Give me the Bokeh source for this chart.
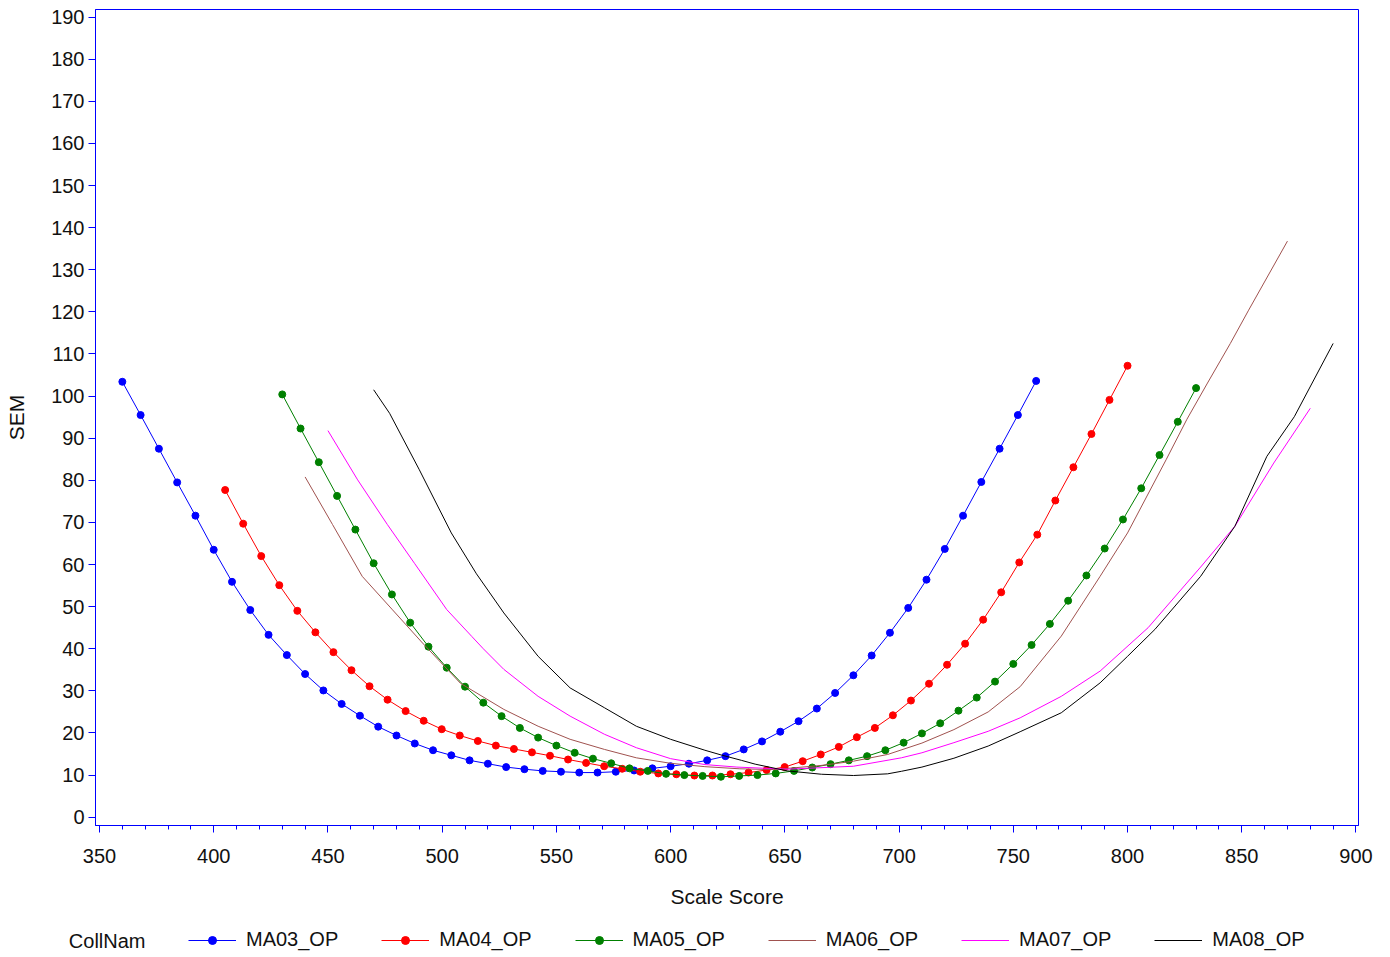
from bokeh.plotting import figure
from bokeh.layouts import column
from bokeh.models import (Range1d, SingleIntervalTicker, FixedTicker, LinearAxis, Legend,
                          LegendItem, ColumnDataSource)
from bokeh.embed import file_html
from bokeh.resources import INLINE

NAN = float("nan")

# ---------------- data ----------------
ma03_score = [360, 368, 376, 384, 392, 400, 408, 416, 424, 432, 440, 448, 456, 464, 472, 480, 488,
              496, 504, 512, 520, 528, 536, 544, 552, 560, 568, 576, 584, 592, 600, 608, 616, 624,
              632, 640, 648, 656, 664, 672, 680, 688, 696, 704, 712, 720, 728, 736, 744, 752, 760]
ma03_sem = [103.4, 95.5, 87.5, 79.5, 71.6, 63.5, 55.9, 49.2, 43.3, 38.5, 34.0, 30.1, 26.9, 24.1,
            21.5, 19.4, 17.5, 15.9, 14.7, 13.5, 12.7, 11.9, 11.4, 11.0, 10.8, 10.6, 10.6, 10.8,
            11.1, 11.6, 12.1, 12.7, 13.5, 14.5, 16.1, 18.0, 20.3, 22.8, 25.8, 29.5, 33.7, 38.4,
            43.8, 49.7, 56.4, 63.7, 71.6, 79.6, 87.5, 95.5, 103.6]

ma04_score = [405.0, 412.9, 420.8, 428.7, 436.6, 444.5, 452.4, 460.3, 468.2, 476.1, 484.0, 491.9,
              499.8, 507.7, 515.6, 523.5, 531.4, 539.3, 547.2, 555.1, 563.0, 570.9, 578.8, 586.7,
              594.6, 602.5, 610.4, 618.3, 626.2, 634.1, 642.0, 649.9, 657.8, 665.7, 673.6, 681.5,
              689.4, 697.3, 705.2, 713.1, 721.0, 728.9, 736.8, 744.7, 752.6, 760.5, 768.4, 776.3,
              784.2, 792.1, 800.0]
ma04_sem = [77.7, 69.7, 62.0, 55.1, 49.0, 43.9, 39.2, 34.9, 31.1, 27.9, 25.2, 22.9, 20.9, 19.4,
            18.1, 17.0, 16.2, 15.4, 14.6, 13.7, 12.9, 12.1, 11.5, 10.8, 10.4, 10.2, 9.9, 9.9,
            10.2, 10.6, 11.2, 11.9, 13.3, 14.9, 16.7, 19.0, 21.2, 24.2, 27.7, 31.7, 36.2, 41.2,
            46.9, 53.4, 60.5, 67.1, 75.2, 83.1, 91.0, 99.1, 107.2]

ma05_score = [430, 438, 446, 454, 462, 470, 478, 486, 494, 502, 510, 518, 526, 534, 542, 550, 558,
              566, 574, 582, 590, 598, 606, 614, 622, 630, 638, 646, 654, 662, 670, 678, 686, 694,
              702, 710, 718, 726, 734, 742, 750, 758, 766, 774, 782, 790, 798, 806, 814, 822, 830]
ma05_sem = [100.4, 92.3, 84.3, 76.3, 68.3, 60.3, 52.9, 46.2, 40.5, 35.5, 31.0, 27.2, 24.0, 21.2,
            18.9, 17.0, 15.3, 13.9, 12.8, 11.6, 11.0, 10.3, 10.0, 9.8, 9.6, 9.8, 10.0, 10.4,
            11.0, 11.8, 12.6, 13.5, 14.5, 15.9, 17.7, 19.9, 22.3, 25.3, 28.4, 32.2, 36.4, 40.9,
            45.9, 51.4, 57.4, 63.8, 70.7, 78.1, 86.0, 93.9, 101.9]

ma06_score = [440, 452, 465, 478, 491, 508, 527, 542, 556, 571, 585, 600, 615, 630, 645, 666, 680,
              695, 710, 724, 739, 753, 771, 788, 800, 817, 826, 835, 845, 853, 870]
ma06_sem = [80.8, 69.5, 57.2, 49.4, 41.6, 31.8, 25.6, 21.6, 18.5, 16.1, 14.1, 12.8, 12.0, 11.5,
            11.3, 12.3, 13.3, 14.9, 17.6, 20.8, 25.0, 31.0, 43.0, 57.2, 67.5, 85.0, 94.5, 103.1,
            112.5, 120.4, 136.8]

ma07_score = [450, 463, 476, 488, 502, 513, 518, 527, 542, 556, 571, 585, 600, 615, 629, 651, 680,
              701, 710, 724, 739, 753, 771, 788, 809, 832, 847, 864, 880]
ma07_sem = [91.8, 80.1, 69.5, 60.2, 49.3, 42.9, 40.0, 35.1, 28.7, 24.0, 19.7, 16.5, 13.9, 12.5,
            11.9, 11.4, 12.1, 14.1, 15.3, 17.7, 20.4, 23.6, 28.7, 34.7, 45.0, 59.4, 69.1, 84.1,
            97.1]

ma08_score = [470, 477, 490, 504, 515, 527, 542, 556, 571, 585, 600, 615, 622, 631, 637, 651, 666,
              680, 695, 701, 710, 724, 739, 753, 771, 788, 800, 812, 832, 847, 861, 873, 890]
ma08_sem = [101.5, 95.9, 82.5, 67.5, 57.8, 48.5, 38.2, 30.7, 26.0, 21.6, 18.5, 15.9, 14.8, 13.5,
            12.6, 11.0, 10.2, 9.9, 10.3, 10.9, 11.9, 14.0, 16.9, 20.3, 24.8, 31.9, 38.2, 44.6,
            57.2, 69.1, 85.7, 95.1, 112.5]

series = [
    ("MA03_OP", ma03_score, ma03_sem, "#0000FF", True),
    ("MA04_OP", ma04_score, ma04_sem, "#FF0000", True),
    ("MA05_OP", ma05_score, ma05_sem, "#008000", True),
    ("MA06_OP", ma06_score, ma06_sem, "#A0524F", False),
    ("MA07_OP", ma07_score, ma07_sem, "#FF00FF", False),
    ("MA08_OP", ma08_score, ma08_sem, "#000000", False),
]
legend_title = "CollNam"

FONT = "Liberation Sans"
W = 1385
LH = 40

p = figure(width=W, height=915,
           x_range=Range1d(348.25, 901.1), y_range=Range1d(-1.97, 191.8),
           output_backend="svg", toolbar_location=None,
           min_border_left=95, min_border_right=27, min_border_top=9, min_border_bottom=90)

p.xgrid.visible = False
p.ygrid.visible = False
p.outline_line_color = "#0000FF"
p.outline_line_width = 1
p.background_fill_color = "white"
p.border_fill_color = "white"

p.xaxis.ticker = SingleIntervalTicker(interval=50, num_minor_ticks=5)
p.yaxis.ticker = SingleIntervalTicker(interval=10, num_minor_ticks=0)

for ax in (p.xaxis, p.yaxis):
    ax.axis_line_color = "#0000FF"
    ax.major_tick_line_color = "#0000FF"
    ax.minor_tick_line_color = "#0000FF"
    ax.major_tick_in = 0
    ax.major_tick_out = 7
    ax.minor_tick_in = 0
    ax.minor_tick_out = 4
    ax.major_label_text_font = FONT
    ax.major_label_text_font_size = "20px"
    ax.major_label_text_color = "#111111"
    ax.axis_label_text_font = FONT
    ax.axis_label_text_font_size = "21px"
    ax.axis_label_text_font_style = "normal"
    ax.axis_label_text_color = "#111111"

p.yaxis.minor_tick_line_color = None
p.xaxis.axis_label = "Scale Score"
p.yaxis.axis_label = "SEM"
p.xaxis.major_label_standoff = 16
p.xaxis.axis_label_standoff = 19
p.yaxis.major_label_standoff = 4
p.yaxis.axis_label_standoff = 20

# legend strip (separate svg figure; its frame lines up with the main frame)
lg = figure(width=W, height=LH, x_range=Range1d(0, 1), y_range=Range1d(0, 1),
            output_backend="svg", toolbar_location=None,
            x_axis_location=None, y_axis_location=None,
            min_border_left=95, min_border_right=27, min_border_top=0, min_border_bottom=0)
lg.xgrid.visible = False
lg.ygrid.visible = False
lg.outline_line_color = None
lg.background_fill_color = "white"
lg.border_fill_color = "white"

# legend heading "CollNam" drawn as the single label of an invisible side axis
title_pos = 0.375
head = LinearAxis(ticker=FixedTicker(ticks=[title_pos]),
                  major_label_overrides={title_pos: legend_title},
                  axis_line_color=None, major_tick_line_color=None,
                  minor_tick_line_color=None, major_tick_in=0, major_tick_out=0,
                  minor_tick_in=0, minor_tick_out=0, major_label_standoff=-50,
                  major_label_text_font=FONT, major_label_text_font_size="20px",
                  major_label_text_color="#111111")
lg.add_layout(head, "left")

dummy = ColumnDataSource(dict(x=[NAN], y=[NAN]))
items = []
for name, xs, ys, color, markers in series:
    src = ColumnDataSource(dict(x=xs, y=ys))
    p.line("x", "y", source=src, line_color=color, line_width=1)
    if markers:
        p.scatter("x", "y", source=src, marker="circle", size=7,
                  fill_color=color, line_color=color)
    rends = [lg.line("x", "y", source=dummy, line_color=color, line_width=1)]
    if markers:
        rends.append(lg.scatter("x", "y", source=dummy, marker="circle", size=7,
                                fill_color=color, line_color=color))
    items.append(LegendItem(label=name, renderers=rends))

legend = Legend(items=items, orientation="horizontal", location=(93, 4),
                label_text_font=FONT, label_text_font_size="20px", label_text_color="#111111",
                glyph_width=48, glyph_height=20, label_width=0, label_height=20,
                label_standoff=10, spacing=43, padding=0, margin=0,
                border_line_color=None, background_fill_alpha=0)
lg.add_layout(legend)

layout = column(p, lg, spacing=0)
open("out.html", "w").write(file_html(layout, INLINE))
